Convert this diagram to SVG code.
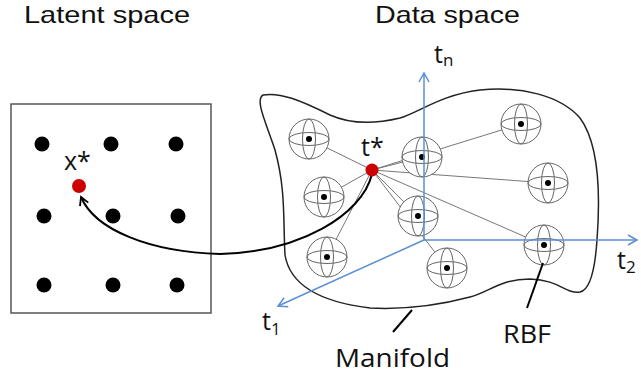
<svg xmlns="http://www.w3.org/2000/svg" width="641" height="383" viewBox="0 0 641 383">
<style>
text{font-family:"Open Sans","Liberation Sans",sans-serif;fill:#111;}
.lbl{font-size:25px;}
.ttl{font-family:"Liberation Sans",Arial,sans-serif;font-size:24px;}
.sub{font-size:17px;}
.dot{fill:#000;}
.sph circle.o,.sph ellipse{fill:none;stroke:#666;stroke-width:1;}
.sph circle.o{fill:#fff;}
.sph circle.c{fill:#000;}
.ax{stroke:#5b8fd3;stroke-width:1.5;fill:none;}
.link{stroke:#777;stroke-width:1;}
</style>
<defs>
<g id="sphere" class="sph">
<circle class="o" r="20"/>
<ellipse rx="20" ry="6.5"/>
<ellipse rx="6.5" ry="20"/>
<circle class="c" r="3"/>
</g>
<marker id="axh" markerWidth="12" markerHeight="12" refX="10" refY="6" orient="auto" markerUnits="userSpaceOnUse">
<path d="M1,1 L10,6 L1,11" fill="none" stroke="#5b8fd3" stroke-width="1.5"/>
</marker>
<marker id="blk" markerWidth="12" markerHeight="12" refX="10" refY="6" orient="auto" markerUnits="userSpaceOnUse">
<path d="M2,1.5 L10,6 L2,10.5" fill="none" stroke="#000" stroke-width="1.8"/>
</marker>
</defs>

<text class="ttl" x="24" y="23" textLength="166" lengthAdjust="spacingAndGlyphs">Latent space</text>
<text class="ttl" x="375" y="23" textLength="145" lengthAdjust="spacingAndGlyphs">Data space</text>

<g id="latent">
<rect x="11" y="104" width="200" height="209" fill="none" stroke="#555" stroke-width="1.5"/>
<circle class="dot" cx="42" cy="144" r="7.5"/>
<circle class="dot" cx="111" cy="144" r="7.5"/>
<circle class="dot" cx="176" cy="144" r="7.5"/>
<circle class="dot" cx="44" cy="216" r="7.5"/>
<circle class="dot" cx="113" cy="216" r="7.5"/>
<circle class="dot" cx="178" cy="216" r="7.5"/>
<circle class="dot" cx="44" cy="285" r="7.5"/>
<circle class="dot" cx="113" cy="285" r="7.5"/>
<circle class="dot" cx="177" cy="285" r="7.5"/>
</g>

<g id="manifold">
<path d="M263,95 C280,92 300,100 330,115 C350,124 375,124 400,118 C420,112 440,95 480,90 C520,86 560,95 580,118 C600,145 600,200 597,240 C595,270 590,290 580,292 C565,294 560,280 530,279 C500,279 490,292 470,297 C440,305 410,310 370,308 C320,302 290,285 285,255 C283,220 286,190 275,150 C265,120 255,100 263,95 Z" fill="none" stroke="#222" stroke-width="1.5"/>
</g>

<g id="connectors">
<line class="link" x1="372" y1="170" x2="309" y2="139"/>
<line class="link" x1="372" y1="170" x2="324" y2="197"/>
<line class="link" x1="372" y1="170" x2="327" y2="257"/>
<line class="link" x1="372" y1="170" x2="422" y2="157"/>
<line class="link" x1="372" y1="170" x2="418" y2="216"/>
<line class="link" x1="372" y1="170" x2="447" y2="268"/>
<line class="link" x1="372" y1="170" x2="521" y2="124"/>
<line class="link" x1="372" y1="170" x2="548" y2="183"/>
<line class="link" x1="372" y1="170" x2="544" y2="245"/>
</g>

<g id="rbfs">
<use href="#sphere" x="309" y="139"/>
<use href="#sphere" x="324" y="197"/>
<use href="#sphere" x="327" y="257"/>
<use href="#sphere" x="422" y="157"/>
<use href="#sphere" x="418" y="216"/>
<use href="#sphere" x="447" y="268"/>
<use href="#sphere" x="521" y="124"/>
<use href="#sphere" x="548" y="183"/>
<use href="#sphere" x="544" y="245"/>
</g>

<g id="axes">
<line class="ax" x1="424" y1="240" x2="424" y2="73" marker-end="url(#axh)"/>
<line class="ax" x1="424" y1="240" x2="637" y2="240" marker-end="url(#axh)"/>
<line class="ax" x1="424" y1="240" x2="278" y2="306" marker-end="url(#axh)"/>
</g>

<g id="mapping">
<path d="M372,174 C362,215 300,252 220,254 C150,252 95,230 81,197" fill="none" stroke="#000" stroke-width="2" marker-end="url(#blk)"/>
</g>

<g id="points">
<circle cx="79" cy="186" r="7" fill="#cc0000"/>
<circle cx="372" cy="170" r="6.5" fill="#cc0000"/>
</g>

<g id="leaders">
<line x1="412" y1="310" x2="393" y2="332" stroke="#000" stroke-width="2"/>
<line x1="543" y1="263" x2="527" y2="308" stroke="#000" stroke-width="2"/>
</g>

<g id="labels">
<text class="lbl" x="64" y="170">x*</text>
<text class="lbl" x="361" y="156">t*</text>
<text class="lbl" x="434" y="63">t<tspan class="sub" dy="3">n</tspan></text>
<text class="lbl" x="617" y="269">t<tspan class="sub" dy="4">2</tspan></text>
<text class="lbl" x="262" y="330">t<tspan class="sub" dy="5">1</tspan></text>
<text class="lbl" x="335" y="367" textLength="115" lengthAdjust="spacingAndGlyphs">Manifold</text>
<text class="lbl" x="503" y="343" textLength="48" lengthAdjust="spacingAndGlyphs">RBF</text>
</g>
</svg>
